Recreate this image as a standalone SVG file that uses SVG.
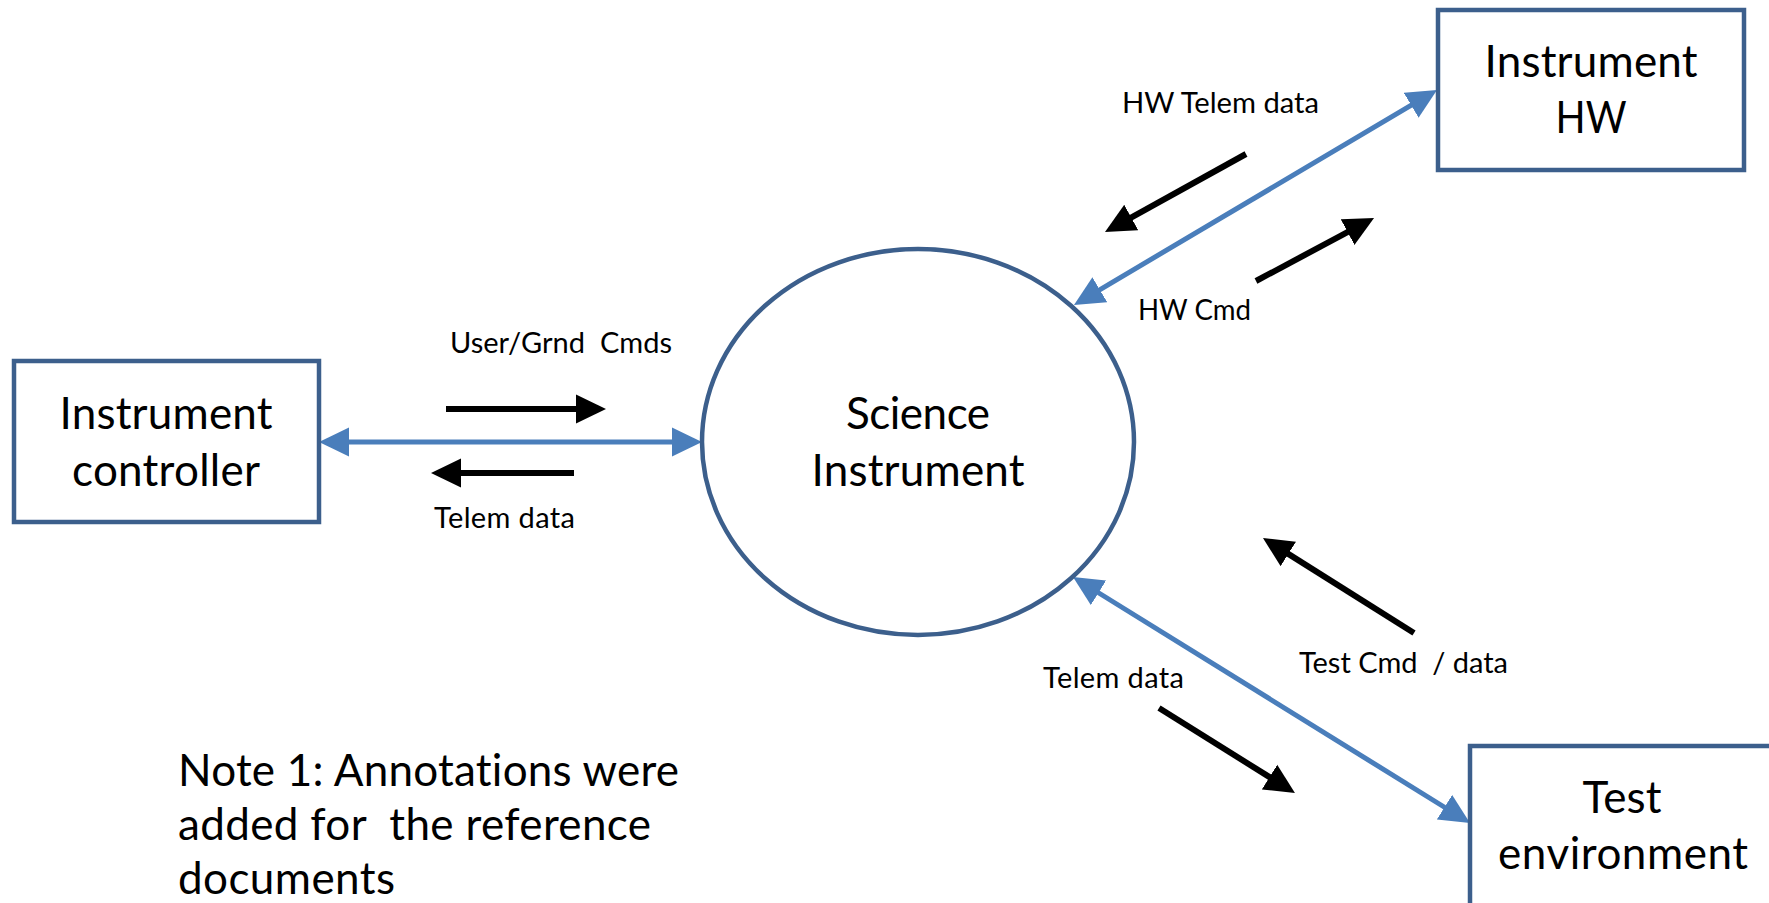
<svg xmlns="http://www.w3.org/2000/svg" width="1769" height="903" viewBox="0 0 1769 903">
<style>
text{font-variant-ligatures:none}
.box{fill:#fff;stroke:#3C5F8C;stroke-width:4.5}
.ell{fill:#fff;stroke:#3C5F8C;stroke-width:4.5}
.big{font-family:Lato,"Liberation Sans",sans-serif;font-size:44px;fill:#000}
.lbl{font-family:Lato,"Liberation Sans",sans-serif;font-size:29px;fill:#000}
.blue{stroke:#4A7EBB;stroke-width:5;fill:none}
.blk{stroke:#000;stroke-width:6;fill:none}
</style>
<defs>
<marker id="ab" markerUnits="userSpaceOnUse" markerWidth="30" markerHeight="30" viewBox="0 0 30 30" refX="10" refY="15" orient="auto-start-reverse">
<path d="M0,0.5 L30,15 L0,29.5 z" fill="#4A7EBB"/>
</marker>
<marker id="ak" markerUnits="userSpaceOnUse" markerWidth="30" markerHeight="30" viewBox="0 0 30 30" refX="10" refY="15" orient="auto">
<path d="M0,0.5 L30,15 L0,29.5 z" fill="#000"/>
</marker>
</defs>
<rect width="1769" height="903" fill="#fff"/>
<g id="connectors">
<line class="blue" x1="339" y1="442" x2="682" y2="442" marker-start="url(#ab)" marker-end="url(#ab)"/>
<line class="blue" x1="1091.2" y1="294.8" x2="1419.8" y2="100.2" marker-start="url(#ab)" marker-end="url(#ab)"/>
<line class="blue" x1="1090" y1="587.5" x2="1453" y2="812.5" marker-start="url(#ab)" marker-end="url(#ab)"/>
<line class="blk" x1="446" y1="409" x2="586" y2="409" marker-end="url(#ak)"/>
<line class="blk" x1="574" y1="473" x2="451" y2="473" marker-end="url(#ak)"/>
<line class="blk" x1="1246" y1="154" x2="1122.5" y2="222.3" marker-end="url(#ak)"/>
<line class="blk" x1="1256" y1="281" x2="1356.4" y2="227.4" marker-end="url(#ak)"/>
<line class="blk" x1="1414" y1="633" x2="1279.9" y2="548.6" marker-end="url(#ak)"/>
<line class="blk" x1="1159" y1="708" x2="1278" y2="782.4" marker-end="url(#ak)"/>
<text class="lbl" x="450" y="353" xml:space="preserve" textLength="222">User/Grnd  Cmds</text>
<text class="lbl" x="434" y="528" textLength="141">Telem data</text>
<text class="lbl" x="1122" y="113" textLength="197" lengthAdjust="spacingAndGlyphs">HW Telem data</text>
<text class="lbl" x="1138" y="320" textLength="113" lengthAdjust="spacingAndGlyphs">HW Cmd</text>
<text class="lbl" x="1299" y="673" xml:space="preserve" textLength="209">Test Cmd  / data</text>
<text class="lbl" x="1043" y="688" textLength="141">Telem data</text>
</g>
<g id="instrument-controller">
<rect class="box" x="14" y="361" width="305" height="161"/>
<text class="big" x="166" y="429" text-anchor="middle" textLength="213">Instrument</text>
<text class="big" x="166" y="486" text-anchor="middle" textLength="188">controller</text>
</g>
<g id="science-instrument">
<ellipse class="ell" cx="918" cy="442" rx="216" ry="193"/>
<text class="big" x="918" y="429" text-anchor="middle" textLength="144">Science</text>
<text class="big" x="918" y="486" text-anchor="middle" textLength="213">Instrument</text>
</g>
<g id="instrument-hw">
<rect class="box" x="1438" y="10" width="306" height="160"/>
<text class="big" x="1591" y="77" text-anchor="middle" textLength="213">Instrument</text>
<text class="big" x="1591" y="133" text-anchor="middle" textLength="71" lengthAdjust="spacingAndGlyphs">HW</text>
</g>
<g id="test-environment">
<rect class="box" x="1470" y="746" width="400" height="300"/>
<text class="big" x="1622" y="813" text-anchor="middle" textLength="79">Test</text>
<text class="big" x="1623" y="869" text-anchor="middle" textLength="250">environment</text>
</g>
<g id="note">
<text class="big" x="178" y="786" textLength="501">Note 1: Annotations were</text>
<text class="big" x="178" y="840" xml:space="preserve" textLength="473">added for  the reference</text>
<text class="big" x="178" y="894" textLength="217">documents</text>
</g>
</svg>
